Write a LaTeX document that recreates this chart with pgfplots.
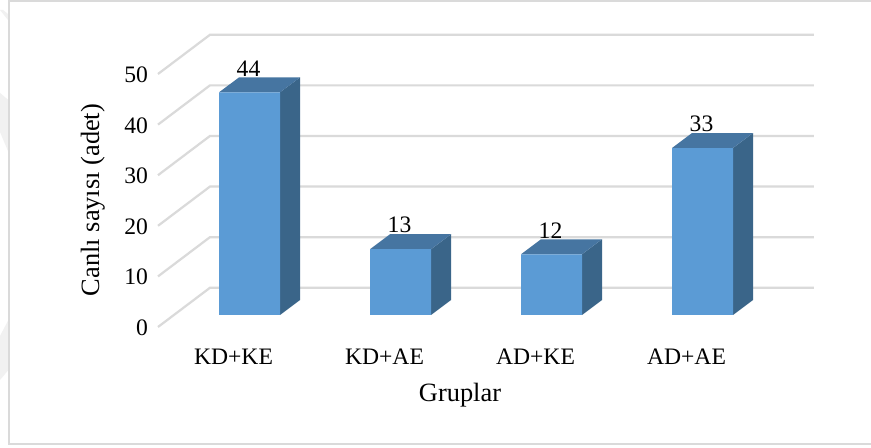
\documentclass[border=0pt]{standalone}
\usepackage{pgfplots}
\pgfplotsset{compat=1.18}
\usepackage{fontspec}
\setmainfont{Liberation Serif}
\definecolor{gridc}{HTML}{DADADA}
\definecolor{frontc}{HTML}{5B9BD5}
\definecolor{topc}{HTML}{4675A1}
\definecolor{sidec}{HTML}{3A6589}
\definecolor{wmark}{HTML}{F1F1F1}
\newcommand{\ticksize}{\fontsize{11.8}{13}\selectfont}
\newcommand{\titlesize}{\fontsize{13.2}{15}\selectfont}
\begin{document}
\begin{tikzpicture}
\useasboundingbox (0,0) rectangle (435.5pt,224pt);
\fill[white] (0,0) rectangle (435.5pt,224pt);
% faint watermark shapes at the left edge
\fill[wmark] (0,219pt) -- (1.5pt,219pt) -- (4pt,217pt) -- (4pt,214pt) -- cycle;
\fill[wmark] (0,177.5pt) -- (4.2pt,174pt) -- (4.2pt,148pt) -- (0,158pt) -- cycle;
\fill[wmark] (0,34pt) -- (4.2pt,39pt) -- (4.2pt,64pt) -- (0,56pt) -- cycle;
% outer chart frame
\draw[gridc,line width=1pt] (435.5pt,223.6pt) -- (4.7pt,223.6pt) -- (4.7pt,2pt) -- (435.5pt,2pt);
% front plane: axis labels and grid
\begin{axis}[
  at={(79pt,60.5pt)},anchor=south west,
  scale only axis,width=302pt,height=126.5pt,
  xmin=-0.5,xmax=3.5,ymin=0,ymax=50,
  clip=false,
  axis line style={draw=none},
  tick style={draw=none},
  xtick={0,1,2,3},
  xticklabels={KD+KE,KD+AE,AD+KE,AD+AE},
  ytick={0,10,20,30,40,50},
  tick label style={font=\ticksize},
  x tick label style={yshift=-7.5pt},
  y tick label style={xshift=-1.5pt,yshift=-0.4pt},
  /pgf/number format/assume math mode=true,
]
\addplot[gridc,line width=1.1pt] coordinates {(-0.5,0) (-0.156,7.75) (3.844,7.75)};
\addplot[gridc,line width=1.1pt] coordinates {(-0.5,10) (-0.156,17.75) (3.844,17.75)};
\addplot[gridc,line width=1.1pt] coordinates {(-0.5,20) (-0.156,27.75) (3.844,27.75)};
\addplot[gridc,line width=1.1pt] coordinates {(-0.5,30) (-0.156,37.75) (3.844,37.75)};
\addplot[gridc,line width=1.1pt] coordinates {(-0.5,40) (-0.156,47.75) (3.844,47.75)};
\addplot[gridc,line width=1.1pt] coordinates {(-0.5,50) (-0.156,57.75) (3.844,57.75)};
\end{axis}
% bar plane
\begin{axis}[
  at={(87pt,66.5pt)},anchor=south west,
  scale only axis,width=302pt,height=126.5pt,
  xmin=-0.5,xmax=3.5,ymin=0,ymax=50,
  clip=false,
  hide axis,
  /pgf/number format/assume math mode=true,
]
% side faces
\addplot[fill=sidec,draw=none] coordinates {(0.202,0) (0.3345,2.96) (0.3345,46.96) (0.202,44)} --cycle;
\addplot[fill=sidec,draw=none] coordinates {(1.202,0) (1.3345,2.96) (1.3345,15.96) (1.202,13)} --cycle;
\addplot[fill=sidec,draw=none] coordinates {(2.202,0) (2.3345,2.96) (2.3345,14.96) (2.202,12)} --cycle;
\addplot[fill=sidec,draw=none] coordinates {(3.202,0) (3.3345,2.96) (3.3345,35.96) (3.202,33)} --cycle;
% top faces
\addplot[fill=topc,draw=none] coordinates {(-0.202,44) (-0.0695,46.96) (0.3345,46.96) (0.202,44)} --cycle;
\addplot[fill=topc,draw=none] coordinates {(0.798,13) (0.9305,15.96) (1.3345,15.96) (1.202,13)} --cycle;
\addplot[fill=topc,draw=none] coordinates {(1.798,12) (1.9305,14.96) (2.3345,14.96) (2.202,12)} --cycle;
\addplot[fill=topc,draw=none] coordinates {(2.798,33) (2.9305,35.96) (3.3345,35.96) (3.202,33)} --cycle;
% front faces
\addplot[ybar,bar width=30.5pt,bar shift=0pt,fill=frontc,draw=none,
  nodes near coords,
  nodes near coords style={font=\ticksize,text=black,anchor=south,yshift=7.8pt,xshift=-0.5pt,inner sep=0pt},
  point meta=y]
  coordinates {(0,44) (1,13) (2,12) (3,33)};
\end{axis}
\node[font=\titlesize] at (230pt,26.6pt) {Gruplar};
\node[font=\titlesize,rotate=90] at (46.4pt,124pt) {Canlı sayısı (adet)};
\end{tikzpicture}
\end{document}
